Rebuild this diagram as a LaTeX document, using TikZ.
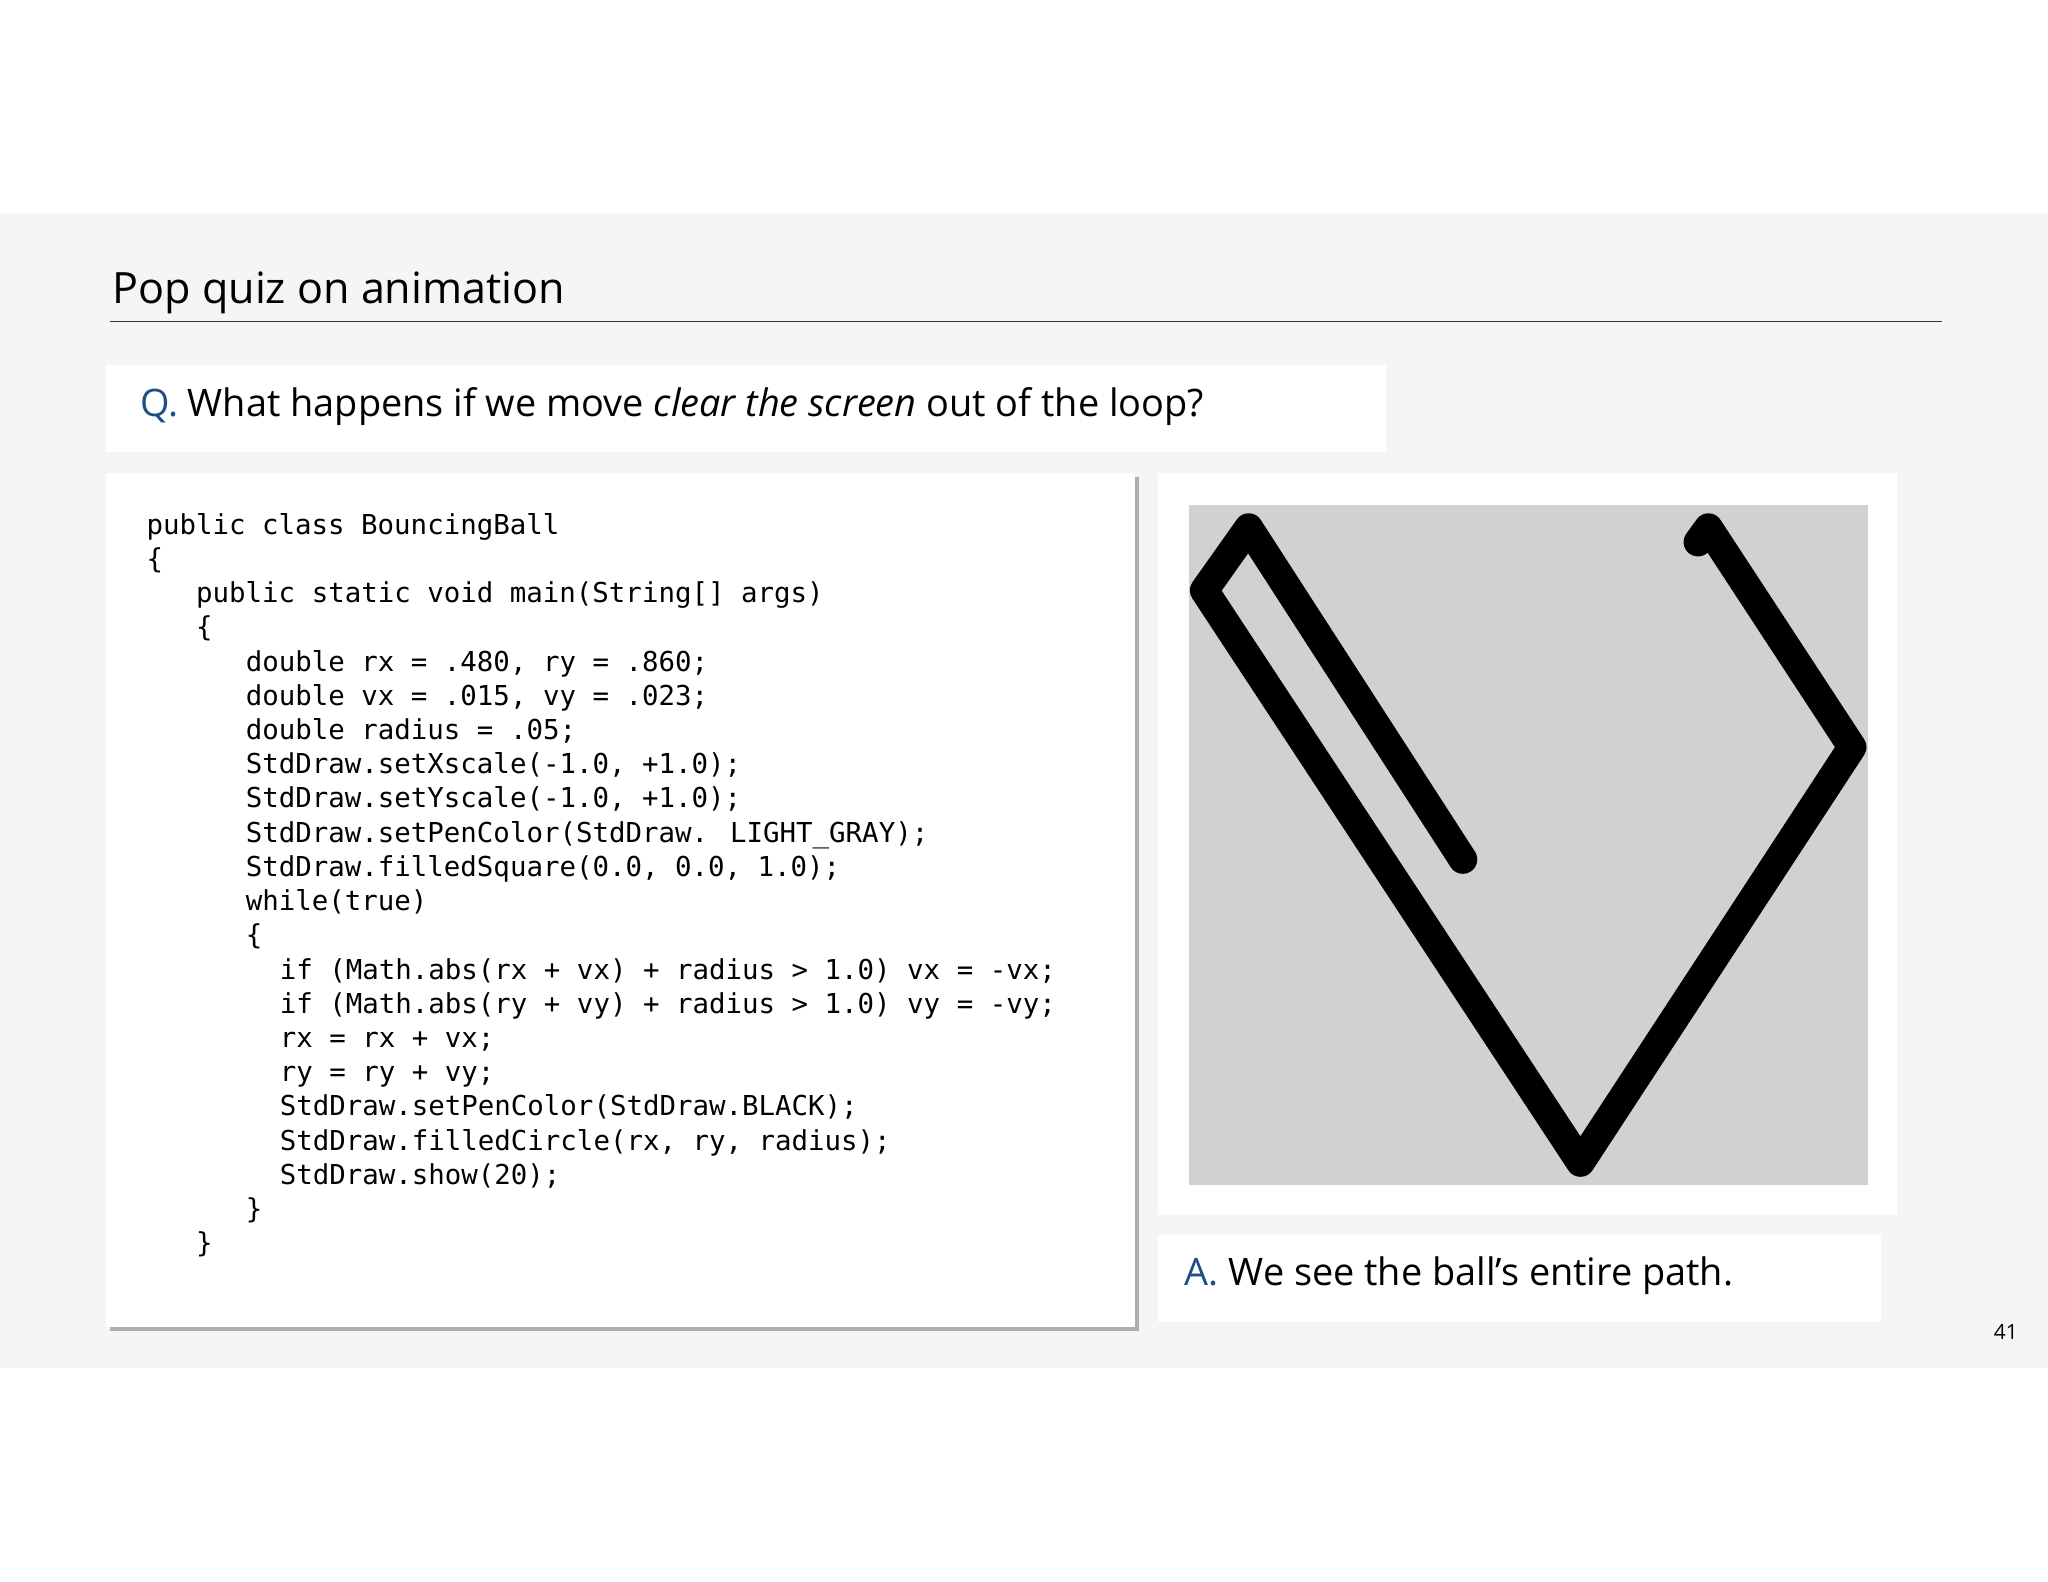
\documentclass[tikz,border=0pt]{standalone}
\usepackage{fontspec}
\setmainfont{Open Sans}
\newfontfamily\codefont{DejaVu Sans Mono}
\usetikzlibrary{shadows}
\definecolor{bandbg}{HTML}{F4F5F6}
\definecolor{qblue}{HTML}{1F4E85}
\definecolor{sqgray}{HTML}{D0D1D3}
\tikzset{panel/.style={fill=white,draw=none},
codeline/.style={anchor=base west,inner sep=0pt,font=\codefont\fontsize{21}{21}\selectfont}}
\begin{document}
\begin{tikzpicture}[x=1pt,y=-1pt]
\useasboundingbox (0,0) rectangle (1568,1211);
\fill[white] (0,0) rectangle (1568,1211);
\fill[bandbg] (0,163) rectangle (1568,1047);
\node[anchor=base west,inner sep=0pt,font=\fontsize{33}{33}\selectfont] (title) at (86,232) {Pop quiz on animation};
\draw[line width=1pt,black!80] (84,246) -- (1487,246);
\node[panel,minimum width=980,minimum height=67,anchor=north west] (qbox) at (81,279) {};
\node[anchor=west,inner sep=0pt,font=\fontsize{29}{29}\selectfont] (qtext) at (107,311) {\textcolor{qblue}{Q.} What happens if we move \textit{clear the screen} out of the loop?};
\node[panel,minimum width=788,minimum height=654,anchor=north west,drop shadow={shadow xshift=3pt,shadow yshift=-3pt,opacity=0.6}] (codebox) at (81,362) {};
\foreach \i/\x/\t in {0/112/{public class BouncingBall},1/112/{\{},2/150/{public static void main(String[] args)},3/150/{\{},
4/188/{double rx = .480, ry = .860;},5/188/{double vx = .015, vy = .023;},6/188/{double radius = .05;},
7/188/{StdDraw.setXscale(-1.0, +1.0);},8/188/{StdDraw.setYscale(-1.0, +1.0);},9/188/{StdDraw.setPenColor(StdDraw. LIGHT\_GRAY);},
10/188/{StdDraw.filledSquare(0.0, 0.0, 1.0);},11/188/{while(true)},12/188/{\{},
13/214/{if (Math.abs(rx + vx) + radius > 1.0) vx = -vx;},14/214/{if (Math.abs(ry + vy) + radius > 1.0) vy = -vy;},
15/214/{rx = rx + vx;},16/214/{ry = ry + vy;},17/214/{StdDraw.setPenColor(StdDraw.BLACK);},
18/214/{StdDraw.filledCircle(rx, ry, radius);},19/214/{StdDraw.show(20);},20/188/{\}},21/150/{\}}}
  \node[codeline] (c\i) at (\x,{409+26.2*\i}) {\t};
\node[panel,minimum width=566,minimum height=568,anchor=north west] (imgbox) at (886,362) {};
\fill[sqgray] (910,387) rectangle (1430,907);
\draw[line width=22pt,line cap=round,line join=round] (1300,415) -- (1308,404) -- (1418,572) -- (1210,890) -- (922,452) -- (956,404) -- (1120,658);
\node[panel,minimum width=554,minimum height=67,anchor=north west] (abox) at (886,945) {};
\node[anchor=west,inner sep=0pt,font=\fontsize{29}{29}\selectfont] (atext) at (907,977) {\textcolor{qblue}{A.} We see the ball’s entire path.};
\node[anchor=east,inner sep=0pt,font=\fontsize{16}{16}\selectfont] (pnum) at (1545,1020) {41};
\end{tikzpicture}
\end{document}
